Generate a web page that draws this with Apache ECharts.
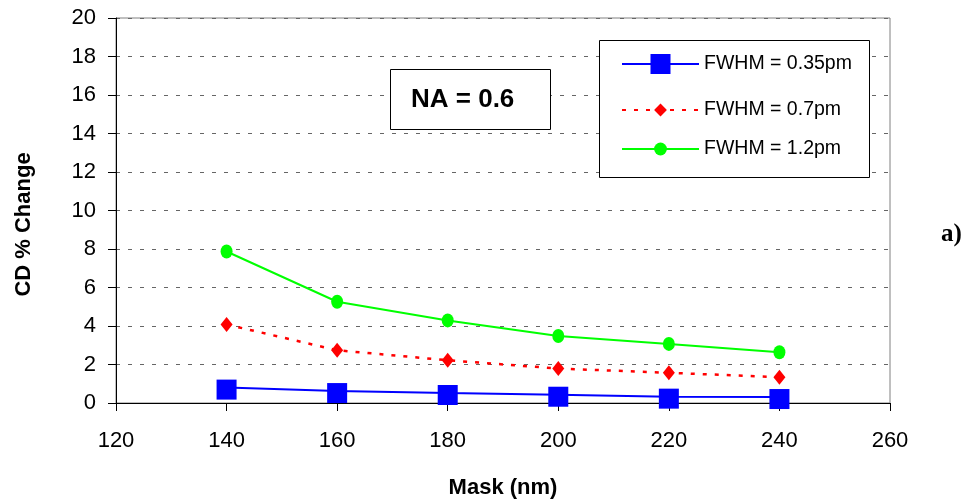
<!DOCTYPE html>
<html>
<head>
<meta charset="utf-8">
<script src="https://cdn.jsdelivr.net/npm/echarts@6/dist/echarts.min.js"></script>
<style>
html,body{margin:0;padding:0;background:#fff;}
#c{width:970px;height:504px;}
</style>
</head>
<body>
<div id="c"></div>
<script>
var maskNm = [140, 160, 180, 200, 220, 240];
var fwhm035 = [0.80, 0.62, 0.52, 0.43, 0.33, 0.31];
var fwhm07 = [4.08, 2.74, 2.22, 1.79, 1.57, 1.34];
var fwhm12 = [7.87, 5.26, 4.29, 3.48, 3.07, 2.64];
var seriesNames = ['FWHM = 0.35pm', 'FWHM = 0.7pm', 'FWHM = 1.2pm'];
var xTicks = [120, 140, 160, 180, 200, 220, 240, 260];
var yTicks = [0, 2, 4, 6, 8, 10, 12, 14, 16, 18, 20];

function pairs(ys) { return maskNm.map(function (x, i) { return [x, ys[i]]; }); }

var FONT = '"Liberation Sans", Arial, sans-serif';
var chart = echarts.init(document.getElementById('c'), null, {renderer: 'canvas'});

var legendBase = {
  orient: 'vertical',
  left: 621,
  padding: 0,
  itemWidth: 77,
  selectedMode: false,
  textStyle: {fontSize: 19.5, color: '#000', fontFamily: FONT},
  z: 5
};

chart.setOption({
  animation: false,
  backgroundColor: '#fff',
  grid: {left: 116, right: 80, top: 18, bottom: 99, show: true, borderColor: '#808080', borderWidth: 1, containLabel: false},
  xAxis: {
    type: 'value',
    min: xTicks[0], max: xTicks[xTicks.length - 1], interval: 20,
    name: 'Mask (nm)', nameLocation: 'middle', nameGap: 74,
    nameTextStyle: {fontSize: 22, fontWeight: 'bold', color: '#000', fontFamily: FONT},
    axisLine: {show: true, lineStyle: {color: '#000', width: 1}},
    axisTick: {show: true, inside: false, length: 8, lineStyle: {color: '#000'}},
    axisLabel: {fontSize: 22, color: '#000', fontFamily: FONT, margin: 27},
    splitLine: {show: false}
  },
  yAxis: {
    type: 'value',
    min: yTicks[0], max: yTicks[yTicks.length - 1], interval: 2,
    name: 'CD % Change', nameLocation: 'middle', nameGap: 81, nameRotate: 90,
    nameTextStyle: {fontSize: 22, fontWeight: 'bold', color: '#000', fontFamily: FONT, padding: [0, 28, 0, 0]},
    axisLine: {show: true, lineStyle: {color: '#000', width: 1}},
    axisTick: {show: true, inside: false, length: 8, lineStyle: {color: '#000'}},
    axisLabel: {fontSize: 22, color: '#000', fontFamily: FONT, margin: 20},
    splitLine: {show: true, lineStyle: {color: '#666', width: 1, type: [4, 8]}}
  },
  legend: [
    Object.assign({}, legendBase, {data: [seriesNames[0]], top: 54, itemHeight: 25}),
    Object.assign({}, legendBase, {data: [seriesNames[1]], top: 100, itemHeight: 16}),
    Object.assign({}, legendBase, {data: [seriesNames[2]], top: 139, itemHeight: 16})
  ],
  graphic: [
    {type: 'rect', z: 3, shape: {x: 599.5, y: 40.5, width: 270, height: 137},
      style: {fill: '#fff', stroke: '#000', lineWidth: 1}},
    {type: 'rect', z: 3, shape: {x: 390.5, y: 69.5, width: 160, height: 60},
      style: {fill: '#fff', stroke: '#000', lineWidth: 1}},
    {type: 'text', z: 4, left: 411, top: 87,
      style: {text: 'NA = 0.6', fontSize: 26, fontWeight: 'bold', fill: '#000', fontFamily: FONT}},
    {type: 'text', z: 4, left: 941, top: 222,
      style: {text: 'a)', fontSize: 25, fontWeight: 'bold', fill: '#000', fontFamily: '"Liberation Serif", "Times New Roman", serif'}}
  ],
  series: [
    {
      name: seriesNames[0], type: 'line', data: pairs(fwhm035),
      symbol: 'rect', symbolSize: 20, symbolOffset: [0, 2], showSymbol: true,
      lineStyle: {color: '#0000ff', width: 2},
      itemStyle: {color: '#0000ff'}, z: 3
    },
    {
      name: seriesNames[1], type: 'line', data: pairs(fwhm07),
      symbol: 'diamond', symbolSize: [12, 15],
      lineStyle: {color: '#ff0000', width: 2.5, type: [4, 8]},
      itemStyle: {color: '#ff0000'}, z: 2
    },
    {
      name: seriesNames[2], type: 'line', data: pairs(fwhm12),
      symbol: 'circle', symbolSize: [12, 14],
      lineStyle: {color: '#00ff00', width: 2},
      itemStyle: {color: '#00ff00'}, z: 2
    }
  ]
});
</script>
</body>
</html>
